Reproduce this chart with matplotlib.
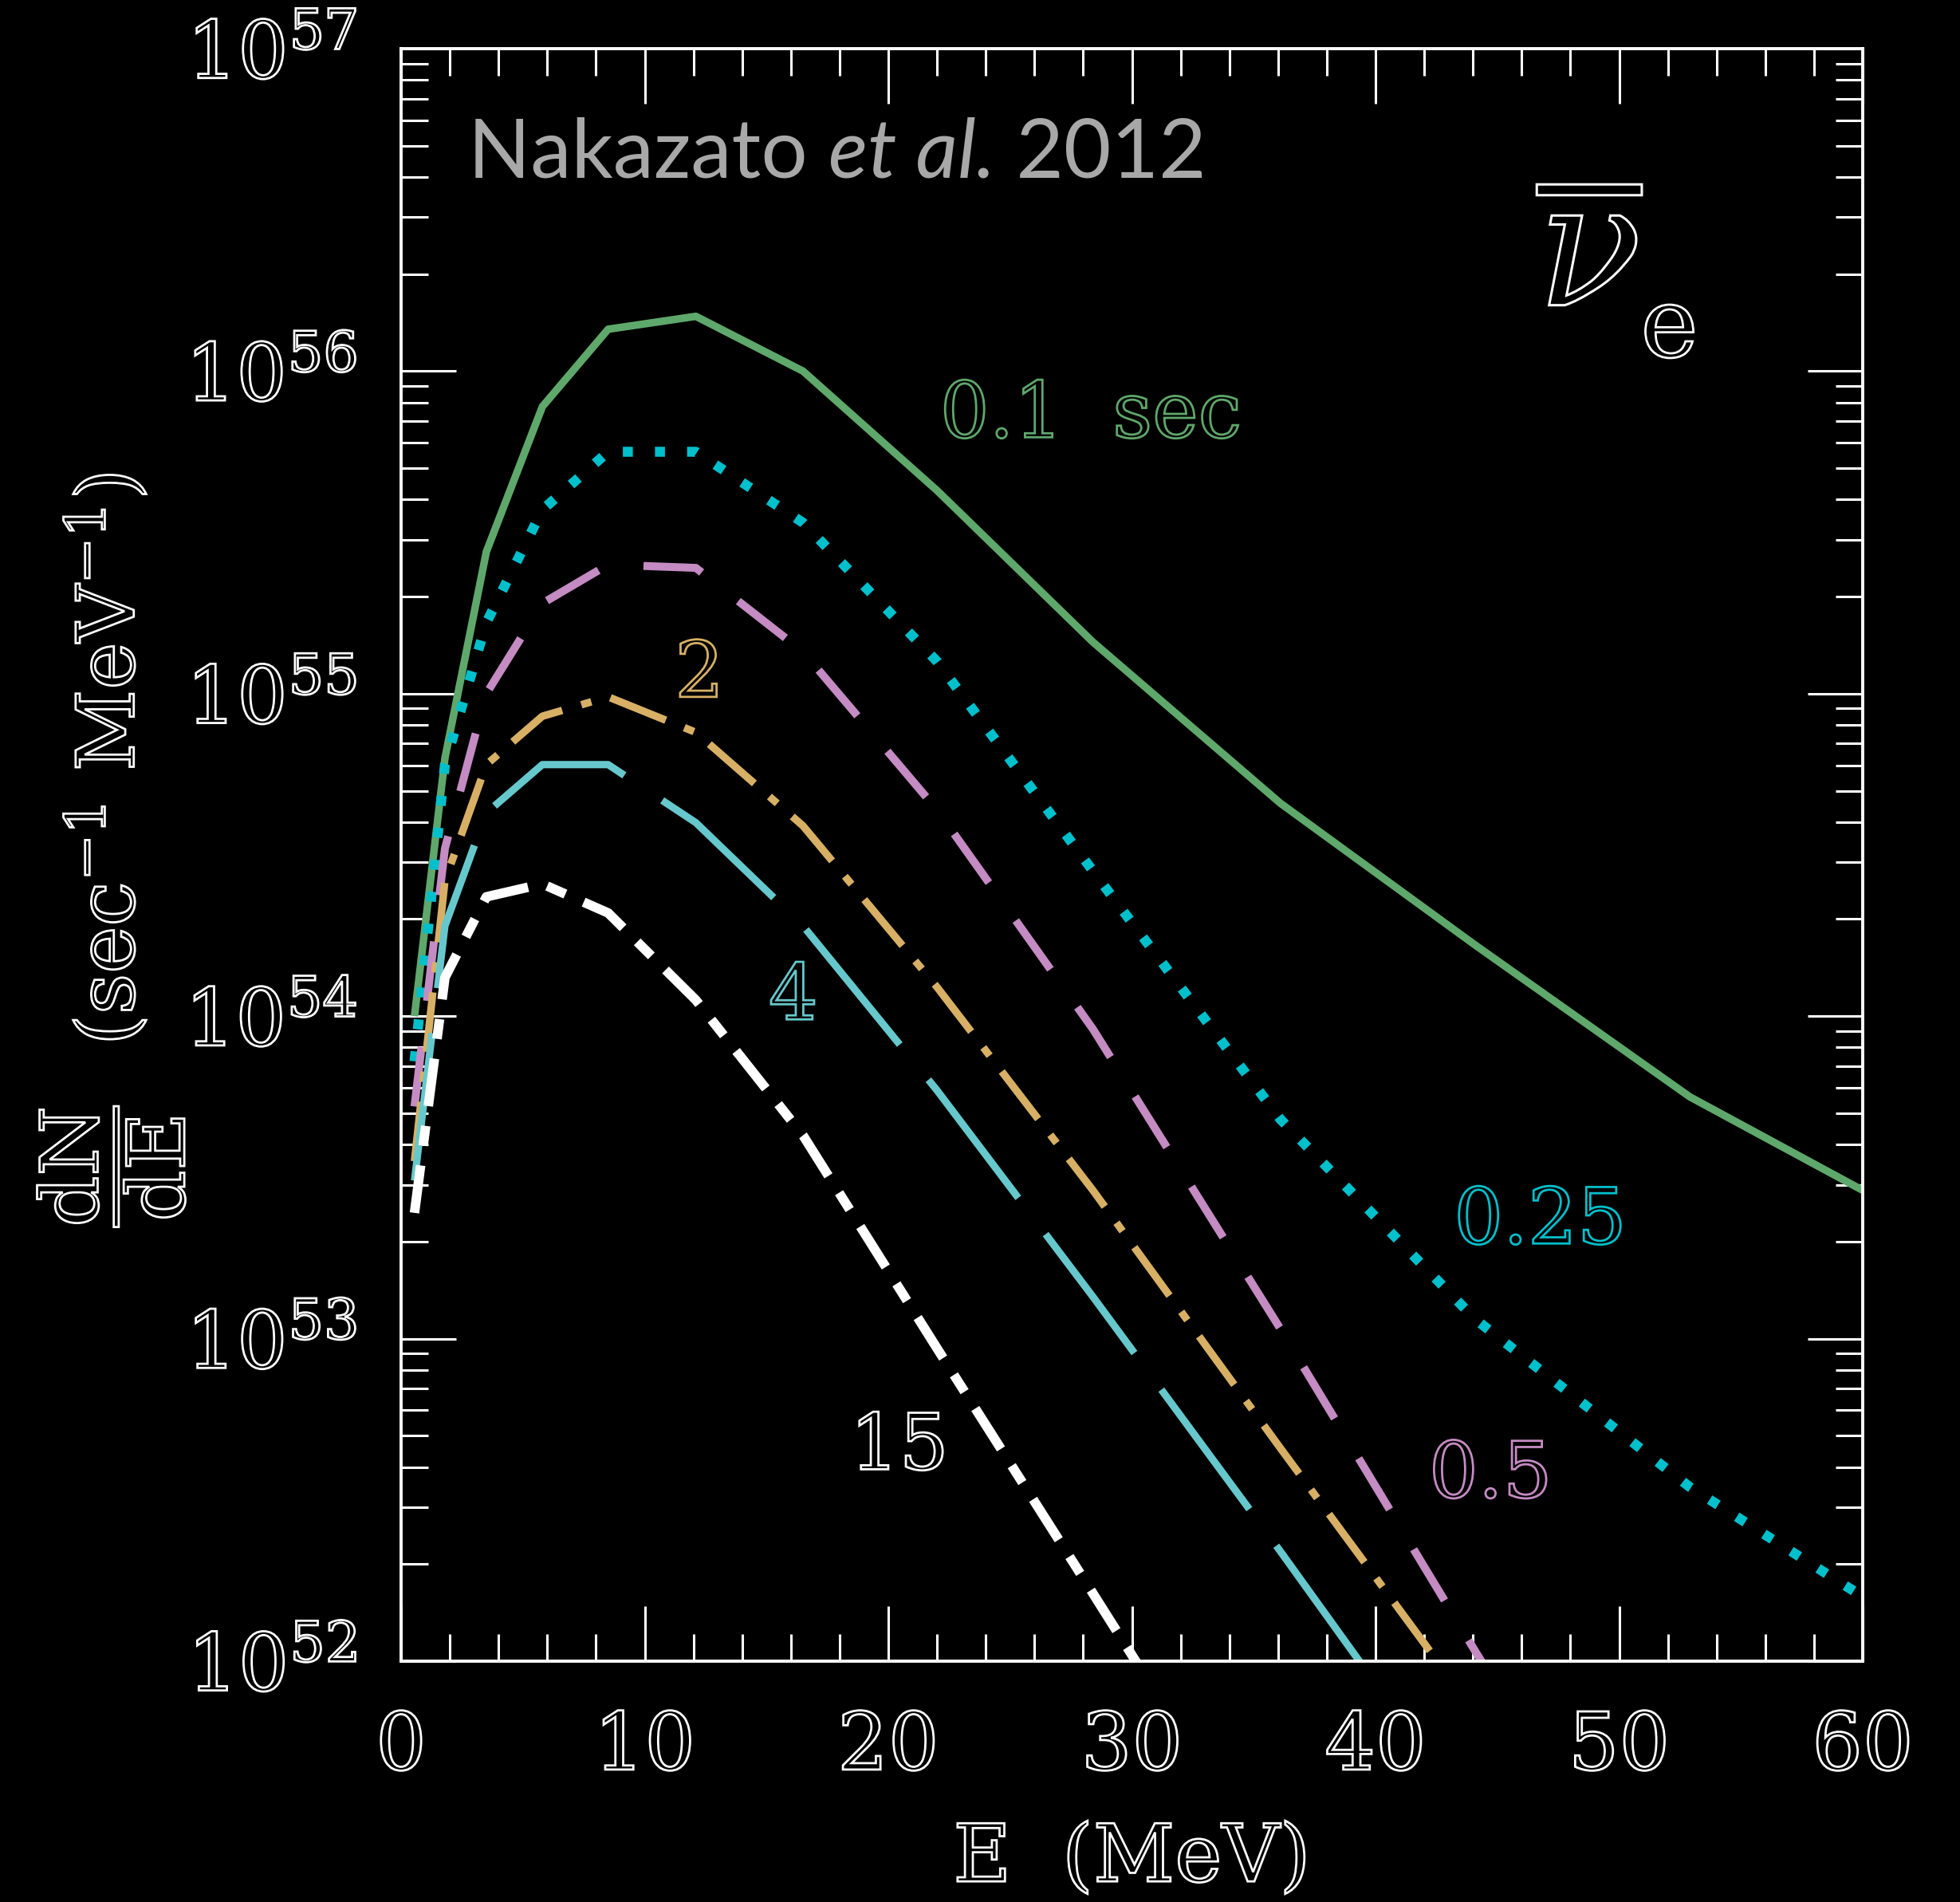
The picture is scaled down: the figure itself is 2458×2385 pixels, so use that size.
import numpy as np
import matplotlib
matplotlib.use("Agg")
import matplotlib.pyplot as plt
from matplotlib import patheffects as pe
from matplotlib.ticker import MultipleLocator, LogLocator, FuncFormatter, NullFormatter

# Energy grid of the spectra (MeV)
energy = [0.55, 1.8, 3.5, 5.8, 8.5, 12.1, 16.5, 22.0, 28.4, 36.1, 44.1, 52.9, 60.0]

# log10 of dN/dE (sec^-1 MeV^-1) at each post-bounce time
log_dnde_t0p1 = [54.00, 54.80, 55.44, 55.89, 56.13, 56.17, 56.00, 55.63, 55.16, 54.66, 54.22, 53.75, 53.46]
log_dnde_t0p25 = [53.86, 54.78, 55.22, 55.57, 55.75, 55.75, 55.53, 55.10, 54.45, 53.68, 53.06, 52.54, 52.20]
log_dnde_t0p5 = [53.72, 54.52, 55.00, 55.28, 55.40, 55.39, 55.13, 54.64, 53.96, 53.03, 52.03, 50.95]
log_dnde_t2 = [53.55, 54.42, 54.78, 54.93, 54.99, 54.88, 54.59, 54.09, 53.46, 52.66, 51.84]
log_dnde_t4 = [53.49, 54.28, 54.63, 54.78, 54.78, 54.60, 54.28, 53.77, 53.13, 52.34, 51.50]
log_dnde_t15 = [53.39, 54.12, 54.37, 54.41, 54.32, 54.05, 53.63, 52.97, 52.21, 51.29]

curve_labels = ["0.1  sec", "0.25", "0.5", "2", "4", "15"]

plt.rcParams["font.family"] = ["DejaVu Serif"]
plt.rcParams["mathtext.fontset"] = "dejavuserif"
plt.rcParams["lines.scale_dashes"] = False

FG = "white"
GREY = "#a8a8a8"


def outline(color, lw=1.0):
    return [pe.PathPatchEffect(edgecolor=color, facecolor="none", linewidth=lw)]


fig = plt.figure(figsize=(2458 / 200, 2385 / 200), dpi=200, facecolor="black")
ax = fig.add_axes([503 / 2458, 1 - 2083 / 2385, (2336 - 503) / 2458, (2083 - 61) / 2385])
ax.set_facecolor("black")

series = [
    (log_dnde_t0p1, dict(color="#5fa86b", lw=3.4, ls="-")),
    (log_dnde_t0p25, dict(color="#00c0cc", lw=4.5, ls=(0, (4.5, 10.0)))),
    (log_dnde_t0p5, dict(color="#c58bc3", lw=3.6, ls=(0, (27, 21)))),
    (log_dnde_t2, dict(color="#d8b065", lw=3.4, ls=(0, (27, 9, 4.7, 9)))),
    (log_dnde_t4, dict(color="#66c8cc", lw=3.3, ls=(0, (67, 20.5)))),
    (log_dnde_t15, dict(color="#ffffff", lw=4.3, ls=(0, (21.6, 9, 9, 9)))),
]
for vals, style in series:
    e = np.array(energy[: len(vals)])
    y = 10.0 ** np.array(vals)
    ax.plot(e, y, solid_capstyle="butt", dash_capstyle="butt", **style)

ax.set_yscale("log")
ax.set_xlim(0, 60)
ax.set_ylim(1e52, 1e57)

# Frame and ticks
for s in ax.spines.values():
    s.set_color(FG)
    s.set_linewidth(1.4)
ax.xaxis.set_major_locator(MultipleLocator(10))
ax.xaxis.set_minor_locator(MultipleLocator(2))
ax.yaxis.set_major_locator(LogLocator(base=10, numticks=10))
ax.yaxis.set_minor_locator(LogLocator(base=10, subs=np.arange(2, 10), numticks=20))
ax.yaxis.set_minor_formatter(NullFormatter())
ax.yaxis.set_major_formatter(
    FuncFormatter(lambda v, p: r"$\mathdefault{10^{%d}}$" % int(round(np.log10(v))))
)
ax.tick_params(which="both", direction="in", top=True, right=True, colors=FG,
               width=1.1, labelsize=36, labelcolor=FG)
ax.tick_params(which="major", length=25)
ax.tick_params(which="minor", length=12.2)
ax.tick_params(axis="x", pad=22)
ax.tick_params(axis="y", pad=20)
for lab in ax.get_xticklabels() + ax.get_yticklabels():
    lab.set_path_effects(outline(FG))

xl = ax.set_xlabel("E  (MeV)", fontsize=36, color=FG, labelpad=16)
xl.set_path_effects(outline(FG))

yl = fig.text(0.057, 0.553,
              r"$\dfrac{\mathrm{dN}}{\mathrm{dE}}$  (sec$^{-1}$ MeV$^{-1}$)",
              rotation=90, ha="center", va="center", fontsize=36, color=FG)
yl.set_path_effects(outline(FG))

# Reference annotation
t1 = ax.text(0.046, 0.920, "Nakazato ", transform=ax.transAxes, fontsize=37,
             family="Lato", color=GREY, ha="left", va="baseline")
t2 = ax.annotate("et al.", xy=(1, 0), xycoords=t1, fontsize=37, family="Lato",
                 style="italic", color=GREY, ha="left", va="bottom")
ax.annotate(" 2012", xy=(1, 0), xycoords=t2, fontsize=37, family="Lato",
            color=GREY, ha="left", va="bottom")

# Flavour symbol
nu = ax.text(0.777, 0.840, r"$\overline{\nu}$", transform=ax.transAxes, fontsize=78,
             color=FG, ha="left", va="baseline")
nu.set_path_effects(outline(FG, 1.1))
sub = ax.text(0.848, 0.809, "e", transform=ax.transAxes, fontsize=44,
              color=FG, ha="left", va="baseline")
sub.set_path_effects(outline(FG))

# Curve labels
label_pos = [(0.3687, 0.759), (0.7203, 0.259), (0.7032, 0.1016),
             (0.1873, 0.598), (0.2515, 0.398), (0.3071, 0.119)]
for text, (x, y), (_, style) in zip(curve_labels, label_pos, series):
    t = ax.text(x, y, text, transform=ax.transAxes, fontsize=35, color=style["color"],
                ha="left", va="baseline")
    t.set_path_effects(outline(style["color"]))

fig.savefig("out.png", dpi=200, facecolor="black")
